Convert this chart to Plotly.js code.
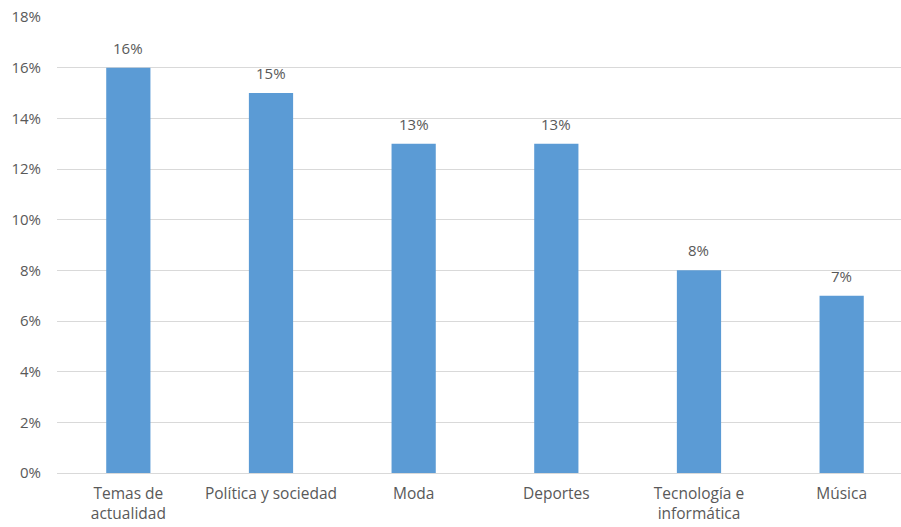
<!DOCTYPE html>
<html><head><meta charset="utf-8">
<script src="https://cdn.plot.ly/plotly-3.0.1.min.js"></script>
<style>body{margin:0;background:#fff}#chart{width:901px;height:527px}</style>
</head><body><div id="chart"></div>
<script>
const categories = ["Temas de<br>actualidad", "Política y sociedad", "Moda", "Deportes", "Tecnología e<br>informática", "Música"];
const values = [0.16, 0.15, 0.13, 0.13, 0.08, 0.07];
const labels = ["16%", "15%", "13%", "13%", "8%", "7%"];
const yTicks = [0, 0.02, 0.04, 0.06, 0.08, 0.10, 0.12, 0.14, 0.16, 0.18];
const yTickText = ["0%", "2%", "4%", "6%", "8%", "10%", "12%", "14%", "16%", "18%"];

const font = {family: "'Open Sans', sans-serif", size: 15, color: "#595959"};
const xfont = {family: "'Open Sans', sans-serif", size: 15.5, color: "#595959"};
const idx = categories.map((c, i) => i);

const trace = {
  type: "bar", x: idx, y: values,
  marker: {color: "#5B9BD5"}, width: 0.31,
  hoverinfo: "none"
};
const annotations = idx.map((i) => ({
  x: i, y: values[i], text: labels[i], showarrow: false,
  yanchor: "bottom", yshift: 8, font: font
}));
const layout = {
  width: 901, height: 527,
  margin: {l: 57, r: 0, t: 17, b: 54},
  paper_bgcolor: "#fff", plot_bgcolor: "#fff",
  font: font, showlegend: false, bargap: 0.69,
  xaxis: {range: [-0.5, 5.416], tickmode: "array", tickvals: idx, ticktext: categories,
          showgrid: false, zeroline: false, showline: false, ticks: "", tickfont: xfont,
          ticklabelstandoff: 9, fixedrange: true},
  yaxis: {range: [0, 0.18], tickmode: "array", tickvals: yTicks, ticktext: yTickText,
          showgrid: true, gridcolor: "#d9d9d9", gridwidth: 1, zeroline: true,
          zerolinecolor: "#d9d9d9", zerolinewidth: 1, showline: false, ticks: "",
          tickfont: font, ticklabelstandoff: 15, fixedrange: true},
  annotations: annotations
};
Plotly.newPlot("chart", [trace], layout, {displayModeBar: false, staticPlot: true});
</script></body></html>
